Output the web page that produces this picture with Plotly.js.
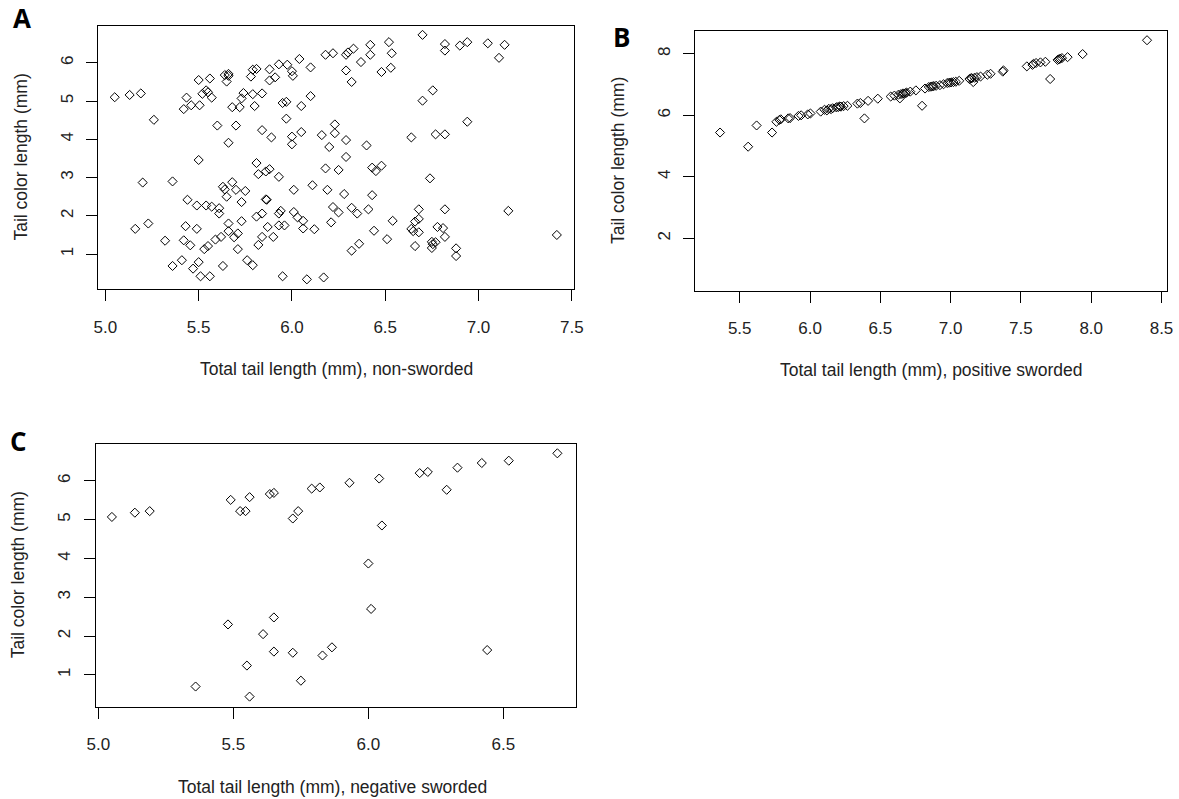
<!DOCTYPE html>
<html>
<head>
<meta charset="utf-8">
<script src="https://cdn.plot.ly/plotly-3.0.1.min.js"></script>
<style>
html,body{margin:0;padding:0;background:#fff;}
#chart{width:1179px;height:799px;}
</style>
</head>
<body>
<div id="chart"></div>
<script>
// ---- Panel A: non-sworded ----
const nonSwordedTotal = [
6.70,6.42,6.52,6.535,6.53,6.48,6.42,6.37,6.33,6.30,6.29,6.29,6.32,6.22,6.18,6.10,6.04,6.00,6.005,5.975,
5.93,5.91,5.88,5.88,5.81,5.79,5.78,5.79,5.84,5.80,5.73,5.74,5.72,5.68,5.66,5.66,5.65,5.64,5.56,5.50,
5.54,5.55,5.52,5.57,5.435,5.46,5.42,5.505,5.19,5.13,5.05,5.26,5.60,5.70,5.66,5.84,5.89,5.95,5.97,5.97,
6.10,6.05,6.05,6.00,6.00,6.16,6.23,6.23,6.20,6.29,6.40,6.29,6.18,6.25,6.43,6.45,6.48,6.64,6.70,6.755,
6.77,6.82,6.94,6.82,6.82,6.90,6.94,7.05,7.14,7.11,6.74,7.16,7.42,
5.50,5.20,5.36,5.44,5.49,5.54,5.57,5.61,5.61,5.63,5.64,5.65,5.68,5.70,5.75,5.73,5.81,5.82,5.86,5.88,
5.93,5.86,5.865,5.84,5.81,5.93,5.94,6.01,6.01,6.03,6.06,6.11,6.19,6.22,6.25,6.21,6.28,6.32,6.35,6.43,
6.41,6.54,6.44,6.51,6.36,6.32,6.68,6.68,6.66,6.64,6.65,6.68,6.66,6.75,6.755,6.77,6.75,6.78,6.81,6.82,
6.82,6.88,6.88,
5.16,5.23,5.32,5.36,5.41,5.42,5.43,5.455,5.49,5.47,5.50,5.51,5.53,5.55,5.56,5.59,5.62,5.63,5.66,5.66,
5.69,5.71,5.71,5.73,5.76,5.79,5.82,5.84,5.87,5.90,5.93,5.96,5.95,6.06,6.12,6.08,6.17
];
const nonSwordedColor = [
6.73,6.47,6.54,6.25,5.87,5.76,6.21,6.02,6.37,6.27,6.21,5.80,5.50,6.25,6.21,5.88,6.10,5.78,5.66,5.95,
5.96,5.62,5.83,5.54,5.84,5.82,5.64,5.18,5.20,4.87,5.07,5.21,4.84,4.84,5.71,5.66,5.51,5.68,5.59,5.55,
5.28,5.23,5.19,5.09,5.09,4.89,4.79,4.89,5.20,5.16,5.10,4.51,4.36,4.36,3.91,4.24,4.05,4.95,4.98,4.54,
5.13,4.87,4.19,4.07,3.87,4.11,4.39,4.16,3.80,3.98,3.84,3.54,3.24,3.20,3.26,3.17,3.31,4.05,5.01,5.28,
4.13,4.13,4.46,6.49,6.32,6.45,6.54,6.51,6.47,6.13,2.98,2.13,1.50,
3.46,2.87,2.90,2.42,2.27,2.27,2.24,2.20,2.06,2.76,2.69,2.50,2.88,2.68,2.65,2.36,3.38,3.09,3.16,3.22,
3.02,2.43,2.42,2.06,1.98,2.06,2.13,2.68,2.10,1.96,1.87,2.80,2.68,2.23,2.09,1.83,2.57,2.21,2.06,2.54,
2.17,1.87,1.61,1.39,1.27,1.09,2.17,1.92,1.85,1.66,1.60,1.57,1.21,1.32,1.26,1.31,1.16,1.71,1.68,2.17,
1.45,1.15,0.95,
1.66,1.80,1.35,0.69,0.84,1.36,1.73,1.23,1.66,0.62,0.79,0.42,1.13,1.21,0.42,1.38,1.45,0.69,1.60,1.80,
1.44,1.54,1.13,1.86,0.84,0.71,1.24,1.45,1.71,1.45,1.75,1.75,0.42,1.67,1.65,0.34,0.39
];

// ---- Panel B: positive sworded ----
const posSwordedTotal = [
5.36,5.56,5.62,5.73,5.761,5.782,5.792,5.845,5.858,5.918,5.937,5.984,6.003,6.076,6.103,6.12,6.134,6.15,6.161,6.187,
6.20,6.213,6.22,6.239,6.266,6.337,6.358,6.413,6.482,6.387,6.574,6.600,6.629,6.639,6.647,6.66,6.666,6.68,6.687,6.713,
6.753,6.797,6.818,6.845,6.86,6.871,6.88,6.897,6.924,6.95,6.976,6.99,7.003,7.02,7.037,7.061,7.134,7.147,7.15,7.161,
7.17,7.187,7.213,7.261,7.284,7.371,7.376,7.542,7.582,7.59,7.608,7.639,7.674,7.708,7.761,7.77,7.779,7.792,7.832,7.939,8.397
];
const posSwordedColor = [
5.44,4.98,5.67,5.44,5.79,5.85,5.87,5.90,5.91,5.98,6.00,6.03,6.06,6.12,6.18,6.16,6.21,6.20,6.23,6.26,
6.27,6.29,6.28,6.30,6.31,6.38,6.40,6.47,6.54,5.90,6.61,6.64,6.67,6.55,6.69,6.70,6.71,6.72,6.74,6.77,
6.81,6.31,6.87,6.92,6.93,6.94,6.95,6.96,6.98,7.01,7.05,7.06,7.07,7.08,7.09,7.12,7.18,7.21,7.20,7.08,
7.22,7.24,7.26,7.32,7.35,7.42,7.46,7.59,7.64,7.67,7.70,7.72,7.74,7.18,7.80,7.82,7.84,7.86,7.89,7.99,8.44
];

// ---- Panel C: negative sworded ----
const negSwordedTotal = [
5.05,5.135,5.19,5.49,5.56,5.525,5.545,5.635,5.65,5.72,5.74,5.79,5.82,5.93,6.04,6.05,6.00,6.01,6.19,6.22,
6.29,6.33,6.42,6.52,6.70,6.44,5.48,5.65,5.61,5.65,5.72,5.83,5.865,5.55,5.75,5.36,5.56
];
const negSwordedColor = [
5.07,5.18,5.22,5.51,5.58,5.22,5.22,5.66,5.69,5.03,5.22,5.80,5.83,5.95,6.06,4.85,3.87,2.70,6.20,6.23,
5.77,6.34,6.46,6.52,6.71,1.64,2.30,2.48,2.05,1.60,1.57,1.50,1.71,1.24,0.85,0.70,0.44
];

const panelLetters = ["A", "B", "C"];
const xTitles = ["Total tail length (mm), non-sworded", "Total tail length (mm), positive sworded", "Total tail length (mm), negative sworded"];
const yTitle = "Tail color length (mm)";

const W = 1179, H = 799;
const px = v => v / W;
const py = v => 1 - v / H;

const FONT = "Liberation Sans, Arial, sans-serif";
const TITLE_SIZE = 17.5;
const TICK_SIZE = 17;
const marker = {symbol: "diamond-open", size: 7, color: "#000", line: {width: 1, color: "#000"}};

function mk(x, y, xa, ya) {
  return {type: "scatter", mode: "markers", x: x, y: y, xaxis: xa, yaxis: ya, marker: marker, hoverinfo: "x+y", showlegend: false};
}

const data = [
  mk(nonSwordedTotal, nonSwordedColor, "x", "y"),
  mk(posSwordedTotal, posSwordedColor, "x2", "y2"),
  mk(negSwordedTotal, negSwordedColor, "x3", "y3")
];

function xax(dom, range, dtick, tick0, anchor) {
  return {
    domain: dom, range: range, anchor: anchor, tick0: tick0, dtick: dtick, tickformat: ".1f",
    showline: true, mirror: true, linecolor: "#000", linewidth: 1,
    ticks: "outside", ticklen: 11, tickwidth: 1, tickcolor: "#000",
    showgrid: false, zeroline: false, ticklabelstandoff: 11,
    tickfont: {family: FONT, size: TICK_SIZE, color: "#222"}
  };
}
function yax(dom, range, tickvals, anchor) {
  return {
    domain: dom, range: range, anchor: anchor, tickmode: "array", tickvals: tickvals,
    showline: true, mirror: true, linecolor: "#000", linewidth: 1,
    ticks: "outside", ticklen: 11, tickwidth: 1, tickcolor: "#000",
    showgrid: false, zeroline: false, tickangle: -90, ticklabelstandoff: 7,
    tickfont: {family: FONT, size: TICK_SIZE, color: "#222"}
  };
}

const boxes = [
  {l: 98.3, r: 574, t: 25.7, b: 289.3},
  {l: 695.3, r: 1166.7, t: 31, b: 291},
  {l: 95.7, r: 576, t: 444, b: 706.7}
];

const letterFont = {family: "Open Sans, Liberation Sans, sans-serif", size: 26, color: "#000"};
const titleFont = {family: FONT, size: TITLE_SIZE, color: "#222"};

const layout = {
  width: W, height: H,
  margin: {l: 0, r: 0, t: 0, b: 0},
  paper_bgcolor: "#fff", plot_bgcolor: "#fff",
  font: {family: FONT, color: "#222"},
  xaxis: xax([px(boxes[0].l), px(boxes[0].r)], [4.962, 7.512], 0.5, 5, "y"),
  yaxis: yax([py(boxes[0].b), py(boxes[0].t)], [0.08, 6.97], [1, 2, 3, 4, 5, 6], "x"),
  xaxis2: xax([px(boxes[1].l), px(boxes[1].r)], [5.184, 8.537], 0.5, 5.5, "y2"),
  yaxis2: yax([py(boxes[1].b), py(boxes[1].t)], [0.29, 8.74], [2, 4, 6, 8], "x2"),
  xaxis3: xax([px(boxes[2].l), px(boxes[2].r)], [4.990, 6.769], 0.5, 5, "y3"),
  yaxis3: yax([py(boxes[2].b), py(boxes[2].t)], [0.18, 6.95], [1, 2, 3, 4, 5, 6], "x3"),
  annotations: [
    {text: "<b>" + panelLetters[0] + "</b>", x: px(22), y: py(18), xref: "paper", yref: "paper", showarrow: false, xanchor: "center", yanchor: "middle", font: letterFont},
    {text: "<b>" + panelLetters[1] + "</b>", x: px(621), y: py(37), xref: "paper", yref: "paper", showarrow: false, xanchor: "center", yanchor: "middle", font: letterFont},
    {text: "<b>" + panelLetters[2] + "</b>", x: px(19), y: py(441), xref: "paper", yref: "paper", showarrow: false, xanchor: "center", yanchor: "middle", font: letterFont},
    {text: xTitles[0], x: px((boxes[0].l + boxes[0].r) / 2), y: py(369), xref: "paper", yref: "paper", showarrow: false, xanchor: "center", yanchor: "middle", font: titleFont},
    {text: xTitles[1], x: px((boxes[1].l + boxes[1].r) / 2), y: py(370), xref: "paper", yref: "paper", showarrow: false, xanchor: "center", yanchor: "middle", font: titleFont},
    {text: xTitles[2], x: px((boxes[2].l + boxes[2].r) / 2 - 3), y: py(787), xref: "paper", yref: "paper", showarrow: false, xanchor: "center", yanchor: "middle", font: titleFont},
    {text: yTitle, textangle: -90, x: px(20), y: py((boxes[0].t + boxes[0].b) / 2), xref: "paper", yref: "paper", showarrow: false, xanchor: "center", yanchor: "middle", font: titleFont},
    {text: yTitle, textangle: -90, x: px(618), y: py((boxes[1].t + boxes[1].b) / 2), xref: "paper", yref: "paper", showarrow: false, xanchor: "center", yanchor: "middle", font: titleFont},
    {text: yTitle, textangle: -90, x: px(18), y: py((boxes[2].t + boxes[2].b) / 2), xref: "paper", yref: "paper", showarrow: false, xanchor: "center", yanchor: "middle", font: titleFont}
  ]
};

Plotly.newPlot("chart", data, layout, {staticPlot: true, displayModeBar: false});
</script>
</body>
</html>
